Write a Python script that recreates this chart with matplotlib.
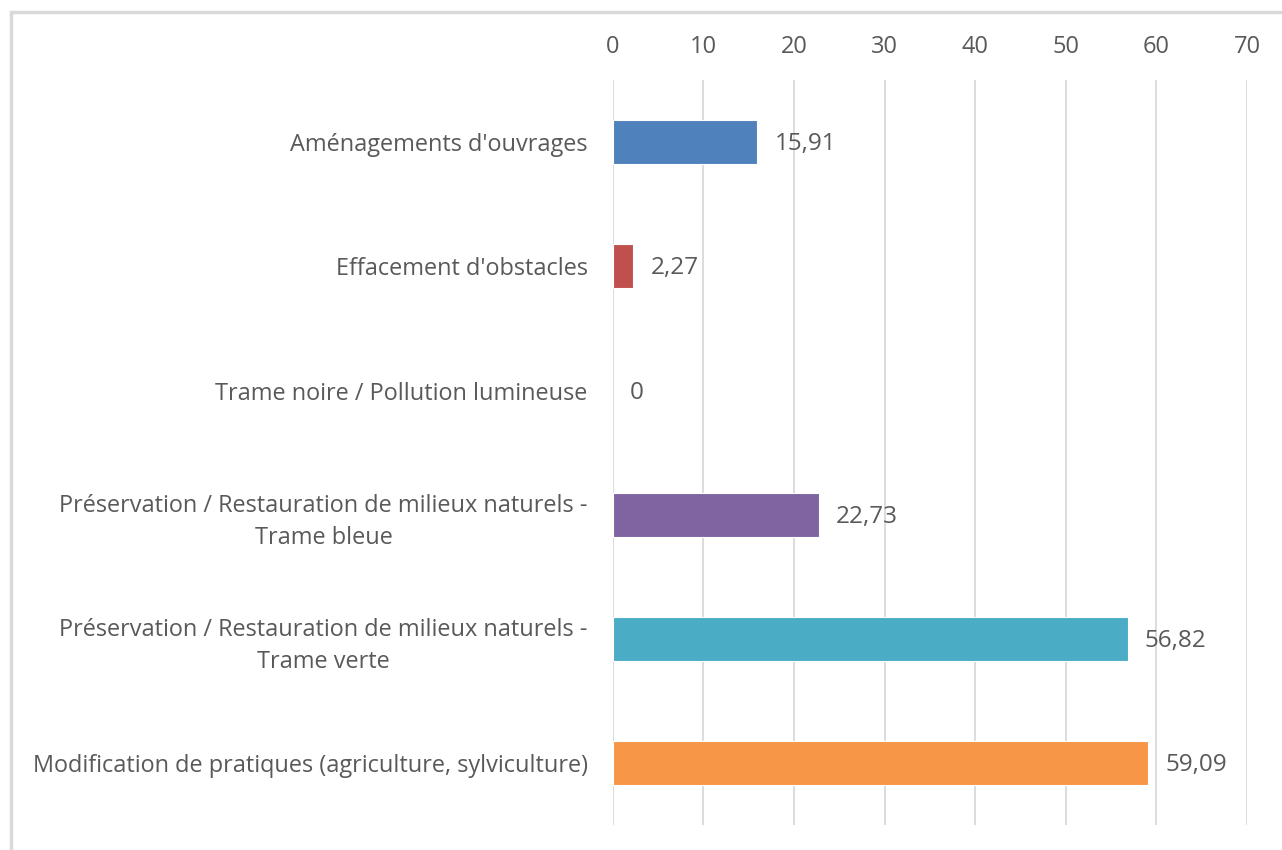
import matplotlib.pyplot as plt
from matplotlib.patches import Rectangle

categories = [
    "Aménagements d'ouvrages",
    "Effacement d'obstacles",
    "Trame noire / Pollution lumineuse",
    "Préservation / Restauration de milieux naturels -\nTrame bleue",
    "Préservation / Restauration de milieux naturels -\nTrame verte",
    "Modification de pratiques (agriculture, sylviculture)",
]
values = [15.91, 2.27, 0, 22.73, 56.82, 59.09]
value_labels = ["15,91", "2,27", "0", "22,73", "56,82", "59,09"]
colors = ["#4F81BD", "#C0504D", "#9BBB59", "#8064A2", "#4BACC6", "#F79646"]
xticks = [0, 10, 20, 30, 40, 50, 60, 70]

plt.rcParams['font.family'] = ['Open Sans', 'DejaVu Sans']
text_color = "#595959"

fig = plt.figure(figsize=(12.82, 8.5), dpi=100)
ax = fig.add_axes([0.478, 0.029, 0.9727 - 0.478, 0.906 - 0.029])

# light frame around the chart area (only top/left visible)
fig.patches.append(Rectangle((10.5 / 1282, -0.1), 1.2, 1 - 11.5 / 850 + 0.1,
                             transform=fig.transFigure, fill=False,
                             edgecolor="#d9d9d9", linewidth=2.5))

ypos = list(range(len(categories)))
widths = [0.8 if v > 0 else 0 for v in values]
ax.barh(ypos, values, height=0.355, color=colors, edgecolor="white", linewidth=widths, zorder=3)

for y, v, lab in zip(ypos, values, value_labels):
    ax.annotate(lab, (v, y), xytext=(12.5, -1.5), textcoords="offset points",
                ha="left", va="center", fontsize=17.5, color=text_color)

ax.set_xlim(0, 70)
ax.set_ylim(len(categories) - 0.5, -0.5)
ax.set_xticks(xticks)
ax.set_yticks(ypos)
ax.set_yticklabels(categories)
for t in ax.get_yticklabels():
    t.set_multialignment("center")
    t.set_linespacing(1.45)

ax.xaxis.tick_top()
ax.tick_params(axis="x", length=0, pad=15, labelsize=17, labelcolor=text_color)
ax.tick_params(axis="y", length=0, pad=18, labelsize=16.9, labelcolor=text_color)
ax.grid(axis="x", color="#d9d9d9", linewidth=1.3, zorder=0)
ax.set_axisbelow(True)
for s in ax.spines.values():
    s.set_visible(False)

fig.savefig("out.png", dpi=100)
